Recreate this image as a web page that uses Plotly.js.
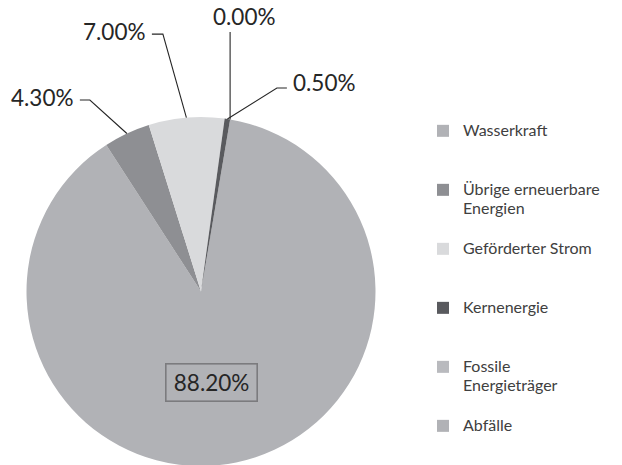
<!DOCTYPE html>
<html>
<head>
<meta charset="utf-8">
<script src="https://cdn.plot.ly/plotly-3.0.1.min.js"></script>
<style>
  html, body { margin: 0; padding: 0; background: #ffffff; }
  #wrap { width: 622px; height: 465px; overflow: hidden; position: relative; }
  #chart { width: 622px; height: 470px; }
</style>
</head>
<body>
<div id="wrap"><div id="chart"></div></div>
<script>
// ---- data ----
const categories = ['Wasserkraft', 'Übrige erneuerbare<br>Energien', 'Geförderter Strom', 'Kernenergie', 'Fossile<br>Energieträger', 'Abfälle'];
const shares = [88.2, 4.3, 7.0, 0.5, 0.0, 0.0];
const sliceColors = ['#b1b2b6', '#8e8f93', '#d9dadc', '#595a5e', '#b9babe', '#b1b2b6'];
const showLabel = [true, true, true, true, true, false];

// ---- layout constants ----
const W = 622, H = 470;
const cx = 201, cy = 291.5, R = 174.5;     // pie centre / radius in px
const rotationDeg = 9.6;
// leader line geometry per slice: elbow offset, horizontal run, text side
const leader = [
  null,
  {ex: -37, ey: -33.5, run: -10, side: 'left'},
  {ex: -23.5, ey: -83.5, run: -11, side: 'left'},
  {ex: 49.5, ey: -31, run: 10, side: 'right'},
  {ex: 0, ey: -87.5, run: 0, side: 'top'},
  null
];

const px = x => x / W;
const py = y => (H - y) / H;

const total = shares.reduce((a, b) => a + b, 0);
let cum = 0;
const shapes = [], annotations = [];
const fontLbl = {family: 'Lato, "Open Sans", sans-serif', size: 22.5, color: '#262626'};

shares.forEach((v, i) => {
  const amid = rotationDeg + 360 * (cum + v / 2) / total;
  cum += v;
  if (!showLabel[i]) return;
  const txt = v.toFixed(2) + '%';
  const rad = amid * Math.PI / 180;
  if (i === 0) {
    const rr = R * 0.53;
    const tx = cx + rr * Math.sin(rad), ty = cy - rr * Math.cos(rad);
    annotations.push({
      xref: 'paper', yref: 'paper', x: px(tx - 8), y: py(ty), text: txt,
      showarrow: false, font: fontLbl, xanchor: 'center', yanchor: 'middle',
      bordercolor: '#7b7b7e', borderwidth: 1.6, borderpad: 4, width: 82, height: 28,
      bgcolor: 'rgba(0,0,0,0)'
    });
    return;
  }
  const L = leader[i];
  const ax = cx + R * Math.sin(rad), ay = cy - R * Math.cos(rad);
  const exx = ax + L.ex, eyy = ay + L.ey;
  const hx = exx + L.run;
  shapes.push({
    type: 'path', xref: 'paper', yref: 'paper',
    path: `M ${px(ax)} ${py(ay)} L ${px(exx)} ${py(eyy)} L ${px(hx)} ${py(eyy)}`,
    line: {color: '#262626', width: 1.1}
  });
  if (L.side === 'left') {
    annotations.push({xref: 'paper', yref: 'paper', x: px(hx - 4), y: py(eyy - 3), text: txt,
      showarrow: false, font: fontLbl, xanchor: 'right', yanchor: 'middle'});
  } else if (L.side === 'right') {
    annotations.push({xref: 'paper', yref: 'paper', x: px(hx + 4), y: py(eyy - 6), text: txt,
      showarrow: false, font: fontLbl, xanchor: 'left', yanchor: 'middle'});
  } else {
    annotations.push({xref: 'paper', yref: 'paper', x: px(exx + 14), y: py(eyy - 15), text: txt,
      showarrow: false, font: fontLbl, xanchor: 'center', yanchor: 'middle'});
  }
});

// legend entries padded to equal height (3 text lines each, last one unpadded)
const legendLabels = categories.map((c, i) => {
  const n = c.split('<br>').length;
  const body = c.split('<br>').map(s => '<span style="font-size:16px">' + s + '</span>').join('<br>');
  return i === categories.length - 1 ? body : body + '<br>&nbsp;'.repeat(3 - n);
});

const trace = {
  type: 'pie',
  labels: legendLabels,
  values: shares,
  sort: false,
  direction: 'clockwise',
  rotation: rotationDeg,
  textinfo: 'none',
  hoverinfo: 'label+percent',
  marker: {colors: sliceColors, line: {width: 0}},
  domain: {x: [(cx - R) / W, (cx + R) / W], y: [(H - cy - R) / H, (H - cy + R) / H]},
  showlegend: true
};

const layout = {
  width: W, height: H,
  margin: {l: 0, r: 0, t: 0, b: 0, autoexpand: false},
  paper_bgcolor: '#ffffff',
  showlegend: true,
  legend: {
    x: 423 / W, xanchor: 'left', y: py(115), yanchor: 'top',
    valign: 'top',
    font: {family: 'Lato, "Open Sans", sans-serif', size: 14.36, color: '#404040'},
    bgcolor: 'rgba(0,0,0,0)'
  },
  shapes: shapes,
  annotations: annotations
};

Plotly.newPlot('chart', [trace], layout, {displayModeBar: false, staticPlot: true});
</script>
</body>
</html>
